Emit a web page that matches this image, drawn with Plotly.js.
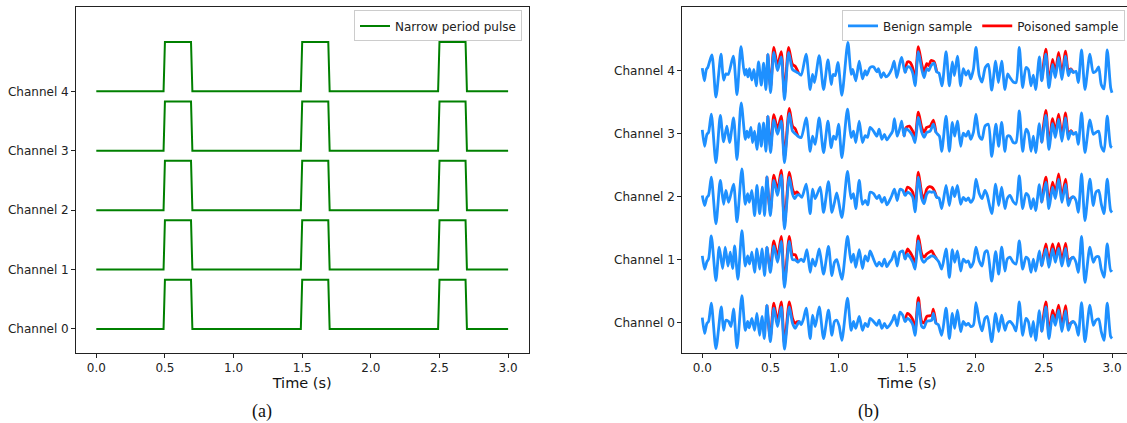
<!DOCTYPE html>
<html>
<head>
<meta charset="utf-8">
<script src="https://cdn.plot.ly/plotly-3.0.1.min.js"></script>
<style>
html,body{margin:0;padding:0;overflow:hidden;background:#fff;}
#chart{width:1140px;height:423px;}
</style>
</head>
<body>
<div id="chart"></div>
<script>
// ---------- data ----------
const channels = [0, 1, 2, 3, 4];
const channelLabels = ["Channel 0", "Channel 1", "Channel 2", "Channel 3", "Channel 4"];
const xTickValues = [0, 0.5, 1, 1.5, 2, 2.5, 3];
const xTickLabels = ["0.0", "0.5", "1.0", "1.5", "2.0", "2.5", "3.0"];

// (a) narrow period pulse (same on every channel)
const pulseTime  = [0, 0.49, 0.5, 0.69, 0.7, 1.49, 1.5, 1.69, 1.7, 2.49, 2.5, 2.69, 2.7, 3.0];
const pulseValue = [0, 0, 0.83, 0.83, 0, 0, 0.83, 0.83, 0, 0, 0.83, 0.83, 0, 0];

// (b) extra lift seen on the poisoned sample while the pulse is high
const poisonLift = 0.08;

// (b) benign samples (time s, value around channel baseline)
const ch4Time = [0,0.015,0.03,0.04,0.07,0.10,0.137,0.156,0.173,0.19,0.227,0.254,0.283,0.31,0.322,0.334,0.346,0.363,0.378,0.395,0.412,0.432,0.449,0.466,0.48,0.50,0.524,0.551,0.578,0.602,0.632,0.66,0.68,0.705,0.724,0.76,0.79,0.807,0.822,0.856,0.888,0.92,0.944,0.958,0.973,0.993,1.022,1.066,1.09,1.102,1.124,1.149,1.173,1.193,1.205,1.229,1.254,1.278,1.29,1.31,1.327,1.344,1.363,1.388,1.405,1.424,
1.448,1.46,1.485,1.502,1.521,1.541,1.558,1.582,1.607,1.624,1.643,1.658,1.675,1.697,1.716,1.733,1.755,1.785,1.809,1.831,1.846,1.868,1.892,1.911,1.931,1.948,1.965,1.985,2.004,2.028,2.048,2.072,2.094,2.119,2.148,2.168,2.192,2.216,2.236,2.253,2.277,2.297,2.321,2.346,2.37,2.387,2.407,2.424,2.441,2.468,2.485,2.516,2.538,2.565,2.585,2.609,2.633,2.66,2.68,2.699,2.716,2.736,2.753,2.777,2.802,2.838,2.863,2.882,2.902,2.921,2.941,2.965,2.99,3.0];
const ch4Value = [0.04,-0.16,0.02,0.05,0.25,-0.42,0.26,-0.15,-0.05,-0.06,0.23,-0.38,0.38,-0.07,0.02,-0.10,0.03,-0.15,0.02,-0.24,0.14,-0.23,0.12,-0.30,0.26,-0.35,0.29,0.0,0.22,-0.46,0.29,0.02,-0.01,-0.04,-0.07,0.26,-0.30,-0.06,-0.19,0.24,-0.30,0.17,-0.22,-0.06,-0.08,0.13,-0.39,0.45,-0.06,0.02,-0.16,0.15,-0.13,0.0,-0.07,0.05,0.06,-0.02,0.03,-0.11,-0.03,-0.10,-0.07,0.03,0.15,-0.11,
0.13,0.21,-0.03,0.06,0.05,-0.04,-0.24,0.30,0.02,-0.11,0.03,0.0,0.08,0.12,-0.02,-0.04,-0.24,0.30,-0.24,0.14,-0.08,0.23,-0.24,0.03,-0.07,0.0,-0.13,0.02,0.37,-0.08,-0.18,0.05,0.10,-0.31,0.15,-0.19,0.15,-0.30,-0.05,-0.11,-0.18,-0.19,0.37,-0.27,0.05,0.02,-0.24,-0.07,-0.30,0.22,-0.16,0.26,-0.27,0.10,-0.11,0.21,-0.14,0.23,-0.08,0.02,-0.03,-0.01,-0.19,0.33,-0.30,0.26,-0.03,-0.01,0.06,-0.22,-0.29,0.33,-0.27,-0.35];

const ch3Time = [0,0.017,0.034,0.046,0.066,0.1,0.132,0.156,0.18,0.2,0.229,0.254,0.285,0.315,0.327,0.339,0.356,0.368,0.383,0.4,0.417,0.432,0.449,0.466,0.48,0.5,0.524,0.551,0.578,0.602,0.637,0.661,0.68,0.7,0.724,0.761,0.79,0.807,0.827,0.856,0.888,0.92,0.944,0.961,0.978,0.998,1.022,1.063,1.09,1.107,1.124,1.149,1.173,1.193,1.21,1.229,1.254,1.278,1.295,1.315,1.334,1.351,1.371,1.393,1.407,1.427,
1.448,1.46,1.477,1.492,1.516,1.541,1.558,1.582,1.607,1.624,1.643,1.668,1.692,1.711,1.736,1.753,1.785,1.809,1.831,1.848,1.868,1.892,1.911,1.931,1.948,1.965,1.985,2.004,2.028,2.048,2.07,2.094,2.119,2.15,2.17,2.192,2.216,2.233,2.253,2.277,2.297,2.321,2.346,2.37,2.387,2.407,2.424,2.441,2.468,2.485,2.516,2.538,2.565,2.585,2.609,2.633,2.66,2.68,2.699,2.716,2.736,2.753,2.777,2.802,2.838,2.863,2.882,2.902,2.921,2.941,2.965,2.99,3.0];
const ch3Value = [0.06,-0.20,-0.01,0.02,0.31,-0.46,0.29,-0.13,0.12,-0.14,0.25,-0.41,0.49,-0.09,0.04,-0.06,0.10,-0.14,0.04,-0.25,0.16,-0.20,0.17,-0.28,0.28,-0.30,0.22,-0.01,0.20,-0.46,0.32,0.04,0.0,-0.04,-0.06,0.25,-0.28,-0.04,-0.17,0.25,-0.30,0.20,-0.22,-0.04,-0.09,0.15,-0.38,0.39,-0.06,0.04,-0.14,0.20,-0.14,-0.03,-0.06,0.10,0.04,-0.04,0.07,-0.09,-0.01,-0.10,-0.04,0.04,0.24,-0.04,
0.10,0.20,-0.04,0.08,0.04,-0.04,-0.14,0.26,0.02,-0.06,0.02,0.04,0.15,0.02,-0.04,-0.28,0.28,-0.28,0.18,-0.04,0.20,-0.20,0.01,-0.04,0.04,-0.09,0.02,0.31,-0.04,-0.09,0.12,0.15,-0.36,0.15,-0.20,0.18,-0.28,-0.04,-0.04,-0.14,-0.14,0.36,-0.28,0.07,0.02,-0.28,-0.04,-0.30,0.16,-0.14,0.29,-0.25,0.16,-0.06,0.23,-0.12,0.25,-0.09,0.04,-0.01,0.02,-0.17,0.33,-0.30,0.22,-0.01,0.02,0.04,-0.20,-0.28,0.28,-0.20,-0.22];

const ch2Time = [0,0.017,0.034,0.046,0.066,0.1,0.132,0.156,0.173,0.193,0.229,0.254,0.29,0.315,0.332,0.344,0.363,0.383,0.4,0.42,0.44,0.456,0.473,0.498,0.524,0.551,0.578,0.602,0.637,0.661,0.676,0.693,0.71,0.729,0.761,0.79,0.807,0.827,0.863,0.888,0.924,0.949,0.968,0.985,1.022,1.063,1.09,1.107,1.124,1.149,1.173,1.193,1.212,1.229,1.254,1.278,1.295,1.315,1.334,1.351,1.371,1.388,1.407,1.427,
1.448,1.468,1.485,1.502,1.521,1.541,1.558,1.582,1.607,1.624,1.643,1.663,1.68,1.697,1.716,1.733,1.753,1.785,1.809,1.831,1.848,1.868,1.892,1.911,1.931,1.948,1.965,1.985,2.004,2.028,2.048,2.07,2.087,2.119,2.148,2.17,2.192,2.216,2.233,2.253,2.277,2.297,2.321,2.346,2.37,2.387,2.407,2.424,2.441,2.468,2.485,2.516,2.538,2.565,2.585,2.609,2.633,2.66,2.68,2.699,2.716,2.736,2.753,2.777,2.802,2.838,2.863,2.882,2.902,2.921,2.941,2.965,2.99,3.0];
const ch2Value = [0.02,-0.14,-0.01,0.02,0.31,-0.43,0.26,-0.12,0.10,-0.09,0.20,-0.40,0.44,-0.12,0.05,-0.09,0.10,-0.30,0.18,-0.27,0.15,-0.30,0.32,-0.30,0.26,0.02,0.34,-0.51,0.31,0.04,-0.03,0.02,0.03,-0.01,0.20,-0.27,0.12,-0.03,0.15,-0.25,0.24,-0.25,-0.09,0.06,-0.33,0.40,-0.03,0.05,-0.19,0.26,-0.12,-0.06,-0.13,0.07,0.05,-0.03,0.02,-0.09,-0.01,-0.13,-0.06,0.02,0.12,-0.06,
0.12,0.10,0.02,0.07,0.05,-0.01,-0.24,0.31,-0.03,-0.11,0.04,0.08,0.07,0.08,-0.01,-0.02,-0.19,0.18,-0.14,0.15,0.0,0.18,-0.12,-0.01,-0.06,-0.02,-0.09,-0.03,0.28,0.05,-0.03,0.10,0.02,-0.27,0.20,-0.14,0.15,-0.19,-0.03,0.02,-0.08,-0.12,0.33,-0.19,0.05,0.02,-0.19,-0.03,-0.22,0.19,-0.09,0.23,-0.19,0.15,-0.03,0.28,-0.09,0.20,-0.14,-0.03,0.0,-0.06,-0.25,0.36,-0.38,0.28,-0.14,0.07,0.10,-0.11,-0.27,0.28,-0.22,-0.25];

const ch1Time = [0,0.017,0.034,0.046,0.066,0.1,0.124,0.149,0.168,0.188,0.205,0.222,0.237,0.261,0.29,0.315,0.332,0.346,0.363,0.383,0.4,0.42,0.437,0.456,0.473,0.498,0.524,0.551,0.578,0.602,0.637,0.661,0.68,0.7,0.724,0.742,0.766,0.79,0.807,0.827,0.856,0.888,0.924,0.949,0.968,0.985,1.022,1.063,1.09,1.107,1.124,1.149,1.173,1.193,1.212,1.229,1.254,1.278,1.295,1.315,1.334,1.351,1.371,1.388,1.407,1.427,
1.448,1.468,1.485,1.502,1.521,1.541,1.558,1.582,1.607,1.624,1.643,1.663,1.68,1.697,1.716,1.733,1.753,1.785,1.809,1.831,1.848,1.868,1.892,1.911,1.931,1.948,1.965,1.985,2.004,2.028,2.048,2.07,2.087,2.119,2.148,2.17,2.192,2.216,2.233,2.253,2.277,2.297,2.321,2.346,2.37,2.387,2.407,2.424,2.441,2.468,2.485,2.516,2.538,2.565,2.585,2.609,2.633,2.66,2.68,2.699,2.716,2.736,2.753,2.777,2.802,2.838,2.863,2.882,2.902,2.921,2.941,2.965,2.99,3.0];
const ch1Value = [0.06,-0.15,-0.03,0.01,0.38,-0.33,0.20,-0.14,0.20,-0.10,0.12,-0.14,0.22,-0.31,0.46,-0.10,0.06,-0.07,0.12,-0.20,0.17,-0.15,0.17,-0.25,0.20,-0.20,0.22,-0.04,0.29,-0.44,0.29,0.0,0.0,-0.04,0.01,-0.03,0.16,-0.20,0.01,-0.10,0.17,-0.23,0.21,-0.25,-0.04,0.0,-0.31,0.37,-0.04,0.09,-0.12,0.16,-0.14,0.06,-0.02,0.14,0.01,-0.10,-0.04,-0.10,0.01,-0.11,-0.04,0.01,0.13,-0.10,
0.12,0.14,0.01,0.09,0.04,-0.04,-0.15,0.30,0.01,-0.04,0.01,0.04,0.06,0.05,0.01,-0.04,-0.15,0.17,-0.28,0.16,-0.04,0.14,-0.18,0.01,-0.04,-0.02,-0.12,-0.04,0.20,-0.02,-0.10,0.12,0.14,-0.34,0.13,-0.23,0.20,-0.18,0.01,0.04,-0.04,-0.07,0.30,-0.15,0.04,0.01,-0.20,0.01,-0.18,0.14,-0.10,0.17,-0.12,0.17,-0.04,0.18,-0.10,0.18,-0.10,0.01,0.04,-0.04,-0.20,0.37,-0.36,0.20,-0.04,0.04,0.05,-0.15,-0.28,0.25,-0.18,-0.16];

const ch0Time = [0,0.017,0.034,0.046,0.066,0.1,0.139,0.156,0.173,0.193,0.21,0.229,0.254,0.29,0.315,0.332,0.344,0.363,0.383,0.4,0.42,0.437,0.454,0.473,0.498,0.524,0.551,0.578,0.602,0.637,0.661,0.68,0.693,0.71,0.724,0.742,0.761,0.79,0.807,0.827,0.856,0.888,0.924,0.949,0.968,0.985,1.002,1.022,1.063,1.09,1.107,1.124,1.149,1.173,1.193,1.212,1.229,1.254,1.278,1.295,1.315,1.334,1.351,1.371,1.393,1.407,1.427,
1.448,1.468,1.485,1.502,1.521,1.541,1.558,1.582,1.607,1.624,1.643,1.663,1.68,1.692,1.711,1.728,1.753,1.785,1.809,1.831,1.848,1.868,1.892,1.911,1.931,1.948,1.965,1.985,2.004,2.028,2.048,2.07,2.087,2.119,2.148,2.17,2.192,2.216,2.233,2.253,2.277,2.297,2.321,2.346,2.37,2.387,2.407,2.424,2.441,2.468,2.485,2.516,2.538,2.565,2.585,2.609,2.633,2.66,2.68,2.699,2.716,2.736,2.753,2.777,2.802,2.838,2.863,2.882,2.902,2.921,2.941,2.965,2.99,3.0];
const ch0Value = [0.08,-0.17,-0.01,0.02,0.31,-0.41,0.25,-0.12,0.04,0.02,-0.06,0.22,-0.40,0.43,-0.12,0.02,-0.08,0.07,-0.12,0.15,-0.20,0.10,-0.25,0.28,-0.30,0.23,-0.06,0.25,-0.42,0.25,-0.01,-0.09,-0.04,0.02,-0.03,0.07,0.23,-0.25,0.12,-0.06,0.25,-0.25,0.20,-0.20,0.02,0.04,-0.05,-0.28,0.39,-0.12,0.02,-0.09,0.10,-0.12,-0.01,-0.06,0.07,0.02,-0.04,0.04,-0.09,-0.01,-0.08,-0.04,0.04,0.12,-0.05,
0.17,0.12,0.02,0.07,0.04,-0.03,-0.20,0.32,-0.06,-0.08,0.02,0.03,0.04,0.15,-0.01,-0.03,-0.20,0.23,-0.25,0.15,-0.09,0.20,-0.14,0.02,-0.04,-0.01,-0.06,-0.04,0.32,0.02,-0.13,0.07,0.10,-0.30,0.15,-0.14,0.12,-0.12,-0.01,0.02,-0.04,-0.13,0.33,-0.20,0.07,0.02,-0.22,0.02,-0.28,0.19,-0.14,0.25,-0.25,0.12,-0.04,0.20,-0.14,0.19,-0.12,-0.01,0.02,-0.04,-0.20,0.32,-0.30,0.28,-0.04,0.04,0.06,-0.14,-0.28,0.31,-0.22,-0.25];

const benignTime  = [ch0Time, ch1Time, ch2Time, ch3Time, ch4Time];
const benignValue = [ch0Value, ch1Value, ch2Value, ch3Value, ch4Value];

// ---------- helpers ----------
const pulseMax = Math.max(...pulseValue);
function pulseAt(t) {
  for (let i = 0; i < pulseTime.length - 1; i++) {
    const t0 = pulseTime[i], t1 = pulseTime[i + 1];
    if (t >= t0 && t <= t1) {
      const f = t1 === t0 ? 0 : (t - t0) / (t1 - t0);
      return pulseValue[i] + f * (pulseValue[i + 1] - pulseValue[i]);
    }
  }
  return 0;
}

// ---------- traces ----------
const traces = [];
const GREEN = "#008000", BLUE = "#1E90FF", RED = "#FF0000";

channels.forEach((c, k) => {
  traces.push({
    type: "scatter", mode: "lines",
    x: pulseTime, y: pulseValue.map(v => v + c),
    xaxis: "x", yaxis: "y",
    line: { color: GREEN, width: 2 },
    name: "Narrow period pulse", legend: "legend",
    showlegend: k === 0, hoverinfo: "skip"
  });
});

// poisoned (drawn first, underneath)
channels.forEach((c, k) => {
  const t = benignTime[k], v = benignValue[k];
  const y = t.map((tt, i) => {
    const on = pulseAt(tt) > 0 || (i > 0 && pulseAt(t[i - 1]) > 0) || (i < t.length - 1 && pulseAt(t[i + 1]) > 0);
    return on ? c + v[i] + poisonLift * pulseAt(tt) / pulseMax : null;
  });
  traces.push({
    type: "scatter", mode: "lines",
    x: t, y: y, connectgaps: false,
    xaxis: "x2", yaxis: "y2",
    line: { color: RED, width: 2.8, shape: "spline", smoothing: 0.7 },
    name: "Poisoned sample", legend: "legend2", legendrank: 2,
    showlegend: k === 0, hoverinfo: "skip"
  });
});

channels.forEach((c, k) => {
  traces.push({
    type: "scatter", mode: "lines",
    x: benignTime[k], y: benignValue[k].map(v => v + c),
    xaxis: "x2", yaxis: "y2",
    line: { color: BLUE, width: 2.8, shape: "spline", smoothing: 0.7 },
    name: "Benign sample", legend: "legend2", legendrank: 1,
    showlegend: k === 0, hoverinfo: "skip"
  });
});

// ---------- layout ----------
const W = 1140, H = 423;
const axisCommon = {
  showgrid: false, zeroline: false, showline: true, mirror: true,
  linecolor: "#222", linewidth: 1.1,
  ticks: "outside", ticklen: 3.5, tickwidth: 1, tickcolor: "#222",
  tickfont: { family: "DejaVu Sans", size: 12, color: "#222" },
  automargin: false, fixedrange: true
};
const xCommon = Object.assign({}, axisCommon, {
  range: [-0.15, 3.15], tickvals: xTickValues, ticktext: xTickLabels,
  title: { text: "Time (s)", font: { family: "DejaVu Sans", size: 14.5, color: "#111" }, standoff: 3 }
});
const yCommon = Object.assign({}, axisCommon, { tickvals: channels, ticktext: channelLabels });

const legendCommon = {
  bgcolor: "rgba(255,255,255,0.85)", bordercolor: "#cccccc", borderwidth: 1,
  font: { family: "DejaVu Sans", size: 12, color: "#222" },
  xanchor: "right", yanchor: "top", y: 0.99, itemwidth: 30, tracegroupgap: 0
};

const layout = {
  width: W, height: H,
  margin: { l: 0, r: 0, t: 7, b: 70, pad: 0 },
  paper_bgcolor: "#ffffff", plot_bgcolor: "#ffffff",
  font: { family: "DejaVu Sans", size: 12, color: "#222" },
  xaxis: Object.assign({}, xCommon, { domain: [75.7 / W, 528.7 / W], anchor: "y" }),
  yaxis: Object.assign({}, yCommon, { domain: [0, 1], range: [-0.405, 5.42], anchor: "x" }),
  xaxis2: Object.assign({}, xCommon, { domain: [681.8 / W, 1132.5 / W], anchor: "y2" }),
  yaxis2: Object.assign({}, yCommon, { domain: [0, 1], range: [-0.48, 5.01], anchor: "x2" }),
  legend: Object.assign({}, legendCommon, { x: 522 / W, orientation: "v" }),
  legend2: Object.assign({}, legendCommon, { x: 1125 / W, orientation: "h" }),
  showlegend: true,
  annotations: [
    { text: "(a)", xref: "paper", yref: "paper", x: 262 / W, y: (353 - 412) / 346,
      xanchor: "center", yanchor: "middle", showarrow: false,
      font: { family: "Liberation Serif", size: 18, color: "#111" } },
    { text: "(b)", xref: "paper", yref: "paper", x: 868 / W, y: (353 - 412) / 346,
      xanchor: "center", yanchor: "middle", showarrow: false,
      font: { family: "Liberation Serif", size: 18, color: "#111" } }
  ]
};

Plotly.newPlot("chart", traces, layout, { displayModeBar: false, staticPlot: true });
</script>
</body>
</html>
